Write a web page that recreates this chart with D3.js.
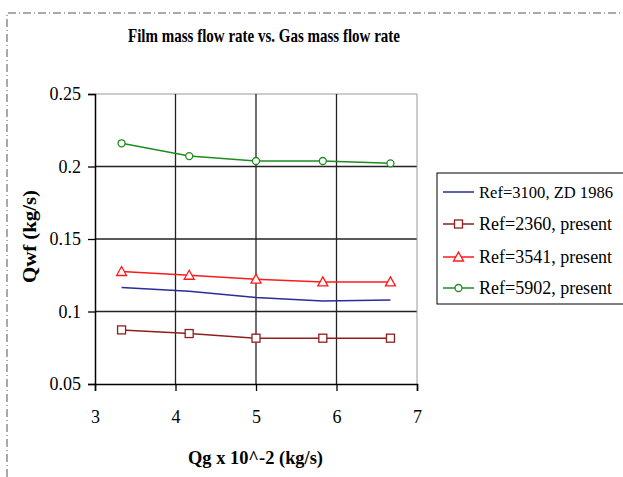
<!DOCTYPE html>
<html><head><meta charset="utf-8">
<script src="https://cdn.jsdelivr.net/npm/d3@7"></script>
<style>body{margin:0;background:#fff}svg{display:block}text{font-family:"Liberation Serif","Times New Roman",serif;fill:#000}</style>
</head><body>
<svg id="c" width="623" height="477"></svg>
<script>
const xValues = [3.33, 4.17, 5.0, 5.83, 6.67];
const seriesNames = ["Ref=3100, ZD 1986", "Ref=2360, present", "Ref=3541, present", "Ref=5902, present"];
const zd1986 = [0.1166, 0.1140, 0.1097, 0.1073, 0.1080];
const ref2360 = [0.0873, 0.0848, 0.0816, 0.0816, 0.0816];
const ref3541 = [0.1276, 0.1250, 0.1223, 0.1204, 0.1204];
const ref5902 = [0.2160, 0.2072, 0.2038, 0.2038, 0.2022];
const xTicks = [3, 4, 5, 6, 7];
const yTicks = [0.05, 0.1, 0.15, 0.2, 0.25];
const colors = ["#2b2b9a", "#8f1f1f", "#ff1a1a", "#1e8c1e"];
const markers = ["none", "square", "triangle", "circle"];
const series = [zd1986, ref2360, ref3541, ref5902];

const svg = d3.select("#c");
// dashed outer border
svg.append("path").attr("d","M7,477 L7,13 L623,13").attr("fill","none")
  .attr("stroke","#555").attr("stroke-width",1).attr("stroke-dasharray","8,3,1,3");

const x = d3.scaleLinear().domain([3,7]).range([95,417]);
const y = d3.scaleLinear().domain([0.05,0.25]).range([384,94]);

// gridlines
const g = svg.append("g");
g.selectAll(".hg").data(yTicks.slice(1)).join("line")
  .attr("x1",x(3)).attr("x2",x(7)).attr("y1",d=>y(d)).attr("y2",d=>y(d))
  .attr("stroke", d=>d===0.25?"#999":"#222").attr("stroke-width",d=>d===0.25?1:1.3);
g.selectAll(".vg").data(xTicks.slice(1)).join("line")
  .attr("x1",d=>x(d)).attr("x2",d=>x(d)).attr("y1",y(0.05)).attr("y2",y(0.25))
  .attr("stroke", d=>d===7?"#999":"#222").attr("stroke-width",d=>d===7?1:1.3);

// axes
const yAxis = d3.axisLeft(y).tickValues(yTicks).tickSize(7).tickPadding(7);
const xAxis = d3.axisBottom(x).tickValues(xTicks).tickFormat(d3.format("d")).tickSize(7).tickPadding(19);
const ya = svg.append("g").attr("transform",`translate(${x(3)},0)`).call(yAxis);
const xa = svg.append("g").attr("transform",`translate(0,${y(0.05)})`).call(xAxis);
[ya,xa].forEach(a=>{
  a.select(".domain").attr("stroke","#000").attr("stroke-width",1.5);
  a.selectAll(".tick line").attr("stroke","#000").attr("stroke-width",1.3);
  a.selectAll(".tick text").style("font-family",'"Liberation Serif",serif').style("font-size","18px").attr("fill","#000");
});
ya.selectAll(".tick text").text(d=>d===0.1?"0.1":d===0.2?"0.2":d3.format(".2f")(d));

// markers
function drawMarker(sel, type, color){
  if(type==="square") sel.append("rect").attr("x",-4).attr("y",-4).attr("width",8).attr("height",8)
    .attr("fill","#fff").attr("stroke",color).attr("stroke-width",1.3);
  else if(type==="triangle") sel.append("path").attr("d","M0,-5 L5,4 L-5,4 Z")
    .attr("fill","#fff").attr("stroke",color).attr("stroke-width",1.3);
  else if(type==="circle") sel.append("circle").attr("r",3.5)
    .attr("fill","#fff").attr("stroke",color).attr("stroke-width",1.3);
}

const line = d3.line().x((d,i)=>x(xValues[i])).y(d=>y(d));
series.forEach((s,k)=>{
  svg.append("path").datum(s).attr("d",line).attr("fill","none")
    .attr("stroke",colors[k]).attr("stroke-width",1.5);
  if(markers[k]!=="none"){
    s.forEach((v,i)=>{
      const m = svg.append("g").attr("transform",`translate(${x(xValues[i])},${y(v)})`);
      drawMarker(m, markers[k], colors[k]);
    });
  }
});

// title & labels
svg.append("text").attr("x",128).attr("y",42)
  .attr("textLength",272).attr("lengthAdjust","spacingAndGlyphs")
  .style("font-size","19px").style("font-weight","bold").text("Film mass flow rate vs. Gas mass flow rate");
svg.append("text").attr("transform","translate(36,283) rotate(-90)")
  .attr("textLength",93).attr("lengthAdjust","spacingAndGlyphs")
  .style("font-size","19px").style("font-weight","bold").text("Qwf (kg/s)");
svg.append("text").attr("x",188).attr("y",464)
  .attr("textLength",135).attr("lengthAdjust","spacingAndGlyphs")
  .style("font-size","19px").style("font-weight","bold").text("Qg x 10^-2 (kg/s)");

// legend
const lg = svg.append("g");
lg.append("rect").attr("x",437).attr("y",173).attr("width",200).attr("height",131)
  .attr("fill","#fff").attr("stroke","#000").attr("stroke-width",1);
const ly = [192, 224, 257, 288];
seriesNames.forEach((n,k)=>{
  lg.append("line").attr("x1",443).attr("x2",474).attr("y1",ly[k]).attr("y2",ly[k])
    .attr("stroke",colors[k]).attr("stroke-width",1.5);
  if(markers[k]!=="none"){
    const m = lg.append("g").attr("transform",`translate(458.5,${ly[k]})`);
    drawMarker(m, markers[k], colors[k]);
  }
  const t = lg.append("text").attr("x",479).attr("y",ly[k]+6).style("font-size", k===0?"17px":"18px").text(n);
  if(k===0) t.attr("textLength",134).attr("lengthAdjust","spacingAndGlyphs");
});
</script>
</body></html>
